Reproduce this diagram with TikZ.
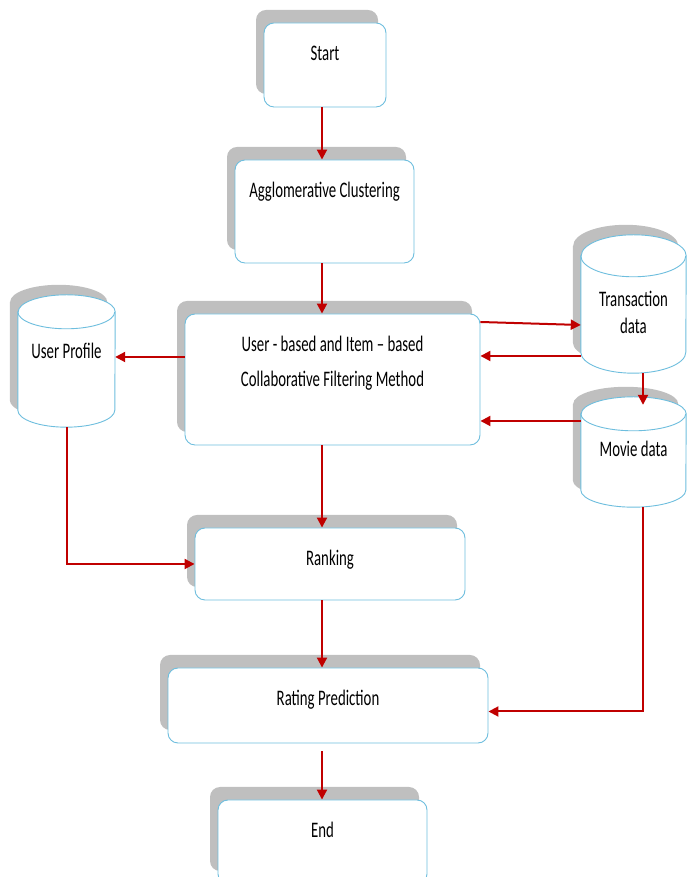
\documentclass[tikz,border=0pt]{standalone}
\usepackage{fontspec}
\setmainfont{Carlito}
\usepackage{graphicx}
\usepackage{tikz}
\usetikzlibrary{positioning,calc,arrows.meta,shadows}
\definecolor{rimblue}{RGB}{110,190,222}
\definecolor{shadegray}{RGB}{191,191,191}
\definecolor{flowred}{RGB}{192,0,0}
\tikzset{
  stepbox/.style    = {rectangle, rounded corners=10pt, draw=rimblue, line width=0.9pt,
                       fill=white, inner sep=0pt,
                       general shadow={fill=shadegray, shadow xshift=-8pt, shadow yshift=13pt}},
  storeframe/.style = {rectangle, inner sep=0pt},
  storedrum/.style  = {draw=rimblue, line width=0.9pt, fill=white},
  steplabel/.style  = {inner sep=0pt, align=center, font=\fontsize{14.8}{35}\selectfont},
  storelabel/.style = {steplabel, font=\fontsize{14.8}{27}\selectfont},
  flow/.style       = {draw=flowred, line width=2pt, -{Triangle[length=10pt,width=10pt]}}
}
% text of the scan is drawn tall and narrow
\newcommand{\tall}[1]{\scalebox{1}[1.5]{#1}\strut}
\newcommand{\DrawStep}[5]{%
  % rounded box with its grey shadow
  \node[stepbox, minimum width=#3pt, minimum height=#4pt] (#1) at #2 {};
  % caption near the top of the box
  \node[steplabel, anchor=north] (#1-t) at ([yshift=-13.5pt]#1.north) {#5};
}
\newcommand{\DrawStore}[7]{%
  % frame the arrows attach to
  \node[storeframe, minimum width=#3pt, minimum height=#4pt] (#1) at #2 {};
  % grey shadow of the drum
  \fill[shadegray] ([shift={(-8,10-#5)}]#1.north west)
    -- ([shift={(-8,10+#5)}]#1.south west)
    arc[start angle=180, end angle=360, x radius=#3/2, y radius=#5]
    -- ([shift={(-8,10-#5)}]#1.north east)
    arc[start angle=0, end angle=180, x radius=#3/2, y radius=#5] -- cycle;
  % the drum itself
  \draw[storedrum] ([shift={(0,-#5)}]#1.north west)
    -- ([shift={(0,#5)}]#1.south west)
    arc[start angle=180, end angle=360, x radius=#3/2, y radius=#5]
    -- ([shift={(0,-#5)}]#1.north east)
    arc[start angle=0, end angle=180, x radius=#3/2, y radius=#5] -- cycle;
  % front rim of the lid
  \draw[storedrum, fill=none] ([shift={(0,-#5)}]#1.north west)
    arc[start angle=180, end angle=360, x radius=#3/2, y radius=#5];
  % caption
  \node[storelabel] (#1-t) at ([yshift=#6pt]#1.center) {#7};
}

\begin{document}
\begin{tikzpicture}[x=1pt,y=1pt]
    \clip (0,0) rectangle (687,877);

    \DrawStep{start}{(325,812)}{122}{84}{\tall{Start}}
    \DrawStep{agg}{(324.5,665.5)}{179}{103}{\tall{Agglomerative Clustering}}
    \DrawStep{cf}{(332.5,497.5)}{295}{131}
      {\tall{User - based and Item – based}\\\tall{Collaborative Filtering Method}}
    \DrawStep{rank}{(330,313)}{270}{72}{\tall{Ranking}}
    \DrawStep{rate}{(328,171.5)}{320}{75}{\tall{Rating Prediction}}
    \DrawStep{stop}{(322.5,35)}{209}{84}{\tall{End}}

    % data stores
    \DrawStore{user}{(66.5,516)}{97}{132}{17}{7.5}{\tall{User Profile}}
    \DrawStore{trans}{(633.5,573)}{105}{138}{21}{-11}{\tall{Transaction}\\\tall{data}}
    \DrawStore{movie}{(633.5,425)}{105}{110}{17}{0.5}{\tall{Movie data}}

    % main flow
    \coordinate (axis) at (322,0);
    \draw[flow] (start.south -| axis) -- (agg.north -| axis);
    \draw[flow] (agg.south -| axis) -- (cf.north -| axis);
    \draw[flow] (cf.south -| axis) -- (rank.north -| axis);
    \draw[flow] (rank.south -| axis) -- (rate.north -| axis);
    \draw[flow, shorten <=8pt] (rate.south -| axis) -- (stop.north -| axis);

    % side flows
    \draw[flow] (cf.west |- 0,520) -- (user.east |- 0,520);
    \draw[flow] ([yshift=57.5pt]cf.east) -- ([yshift=-21pt]trans.west);
    \draw[flow] (trans.west |- 0,521) -- (cf.east |- 0,521);
    \draw[flow] (movie.west |- 0,456) -- (cf.east |- 0,456);
    \draw[flow, shorten >=-8pt] (trans.south -| 643,0) -- (movie.north -| 643,0);
    \draw[flow] (user.south) |- (rank.west);
    \draw[flow] (movie.south -| 643,0) |- ([yshift=-6pt]rate.east);
\end{tikzpicture}
\end{document}
